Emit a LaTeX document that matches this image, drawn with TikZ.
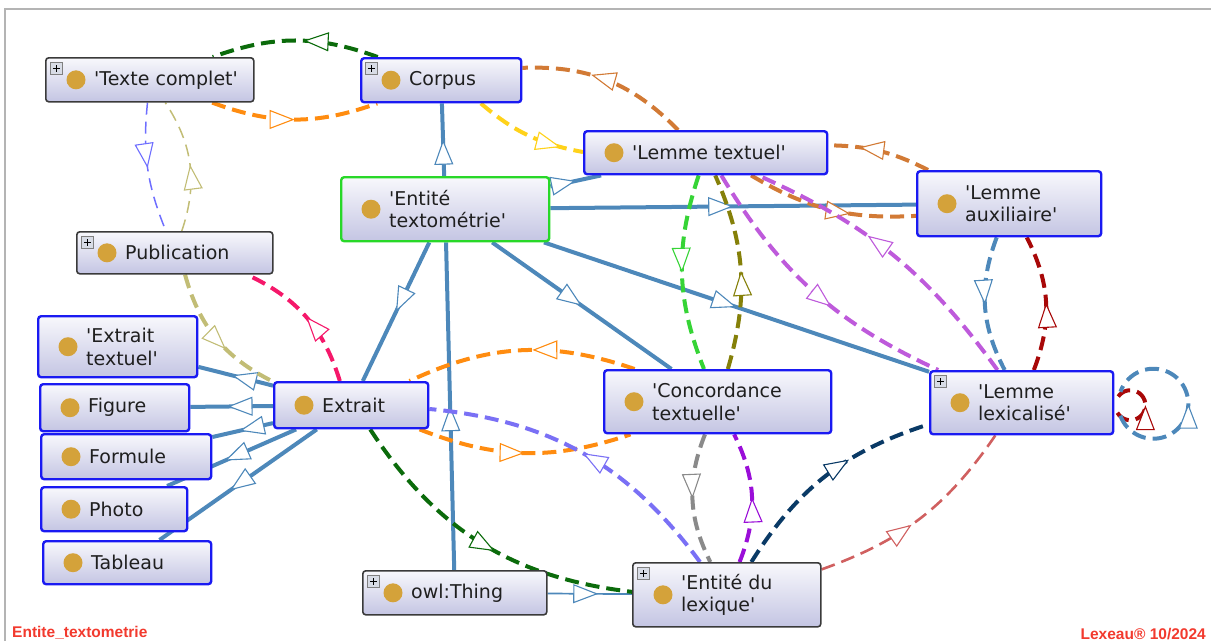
\documentclass[tikz,border=0pt]{standalone}
\usepackage{fontspec}
\setmainfont{DejaVu Sans}
\newfontfamily\footfont{Liberation Sans}
\usetikzlibrary{arrows.meta, decorations.markings}

\definecolor{clsblue}{HTML}{1A1AF2}
\definecolor{clsgrey}{HTML}{3A3A3A}
\definecolor{clsgreen}{HTML}{28D828}
\definecolor{boxtop}{HTML}{F8F8FC}
\definecolor{boxbot}{HTML}{C4C5E3}
\definecolor{dotgold}{HTML}{D4A23A}
\definecolor{plusfill}{HTML}{D8DCE6}
\definecolor{steel}{HTML}{4D88BA}
\definecolor{dkgreen}{HTML}{0B6B0B}
\definecolor{orng}{HTML}{FF8C10}
\definecolor{peru}{HTML}{D27A35}
\definecolor{yel}{HTML}{FFD21A}
\definecolor{ltblue}{HTML}{6E6EFF}
\definecolor{khaki}{HTML}{C2BD76}
\definecolor{pink}{HTML}{F5186A}
\definecolor{slate}{HTML}{7A70F5}
\definecolor{lime}{HTML}{36D436}
\definecolor{olive}{HTML}{858009}
\definecolor{orchid}{HTML}{BE5ADB}
\definecolor{gry}{HTML}{8A8A8A}
\definecolor{dviolet}{HTML}{9A0ED8}
\definecolor{navy}{HTML}{0A3A66}
\definecolor{coral}{HTML}{D06060}
\definecolor{dred}{HTML}{A80808}
\definecolor{framegray}{HTML}{B4B4B4}
\definecolor{footred}{HTML}{F23A2E}

\pgfdeclarelayer{background}
\pgfsetlayers{background,main}

\newcommand{\sq}{\textquotesingle}
% #1 style, #2 name, #3 x, #4 y, #5 width, #6 height, #7 text
\newcommand{\owlclass}[7]{%
  \node[#1, minimum width=#5pt, minimum height=#6pt] (#2) at (#3,#4) {};
  \fill[dotgold] ([xshift=31pt]#2.west) circle (9.5pt);
  \node[lbl] (#2-txt) at ([xshift=49pt]#2.west) {#7};
}
\newcommand{\plusicon}[1]{%
  \node[plusico] (#1-plus) at ([xshift=5pt,yshift=-5pt]#1.north west) {};
}

\tikzset{
  cls/.style={draw=clsblue, line width=2.4pt, rounded corners=3pt,
    top color=boxtop, bottom color=boxbot, anchor=north west, inner sep=0pt},
  clsgrey/.style={cls, draw=clsgrey, line width=1.6pt},
  clsgreen/.style={cls, draw=clsgreen},
  lbl/.style={anchor=west, align=left, inner sep=0pt, text=black!88,
    font=\fontsize{19}{22.5}\selectfont},
  plusico/.style={anchor=north west, minimum size=12pt, inner sep=0pt,
    draw=gray, fill=plusfill, line width=0.6pt,
    path picture={\draw[black, line width=1pt]
      ([xshift=-3.5pt]path picture bounding box.center) -- ([xshift=3.5pt]path picture bounding box.center)
      ([yshift=-3.5pt]path picture bounding box.center) -- ([yshift=3.5pt]path picture bounding box.center);}},
  foot/.style={inner sep=0pt, text=footred, font=\footfont\bfseries\fontsize{15.5}{18}\selectfont},
  arr/.style={postaction={decorate, decoration={markings,
    mark=at position #1 with {\arrow{Triangle[fill=white, length=25pt, width=19pt, line width=1.1pt]}}}}},
  arr/.default=0.5,
  isa/.style={steel, line width=4pt},
  rel/.style={dash pattern=on 14pt off 7pt, line width=4pt},
  thinrel/.style={dash pattern=on 12pt off 7pt, line width=1.5pt},
}

\begin{document}
\begin{tikzpicture}[x=1pt, y=-1pt]
\useasboundingbox (0,0) rectangle (1211,641);
\draw[framegray, line width=1.5pt] (5,641) -- (5,9) -- (1211,9);

% classes
\owlclass{clsgrey}{texte}{45}{57}{208}{44}{\sq Texte complet\sq}
\owlclass{cls}{corpus}{360}{57}{160}{44}{Corpus}
\owlclass{cls}{lemtxt}{583}{130}{243}{43}{\sq Lemme textuel\sq}
\owlclass{clsgreen}{enttxt}{340}{176}{208}{64}{\sq Entité\\textométrie\sq}
\owlclass{cls}{lemaux}{916}{170}{184}{65}{\sq Lemme\\auxiliaire\sq}
\owlclass{clsgrey}{pub}{76}{231}{196}{42}{Publication}
\owlclass{cls}{exttxt}{37}{315}{159}{61}{\sq Extrait\\textuel\sq}
\owlclass{cls}{figure}{39}{383}{149}{47}{Figure}
\owlclass{cls}{formule}{40}{433}{170}{45}{Formule}
\owlclass{cls}{photo}{40}{486}{146}{44}{Photo}
\owlclass{cls}{tableau}{42}{540}{168}{43}{Tableau}
\owlclass{cls}{extrait}{273}{381}{154}{46}{Extrait}
\owlclass{cls}{concord}{603}{369}{227}{63}{\sq Concordance\\textuelle\sq}
\owlclass{cls}{lemlex}{929}{370}{183}{63}{\sq Lemme\\lexicalisé\sq}
\owlclass{clsgrey}{owl}{362}{570}{184}{44}{owl:Thing}
\owlclass{clsgrey}{entlex}{632}{562}{188}{64}{\sq Entité du\\lexique\sq}
\foreach \cname in {texte, corpus, pub, lemlex, owl, entlex} {\plusicon{\cname}}

\node[foot, anchor=south west] (fname) at (12,640) {Entite\_textometrie};
\node[foot, anchor=south east] (fdate) at (1206,640) {Lexeau® 10/2024};

\begin{pgfonlayer}{background}
% subclass links
\draw[isa, arr] (enttxt) -- (corpus);
\draw[isa, arr] (enttxt) -- (lemtxt);
\draw[isa, arr] (enttxt) -- (lemaux);
\draw[isa, arr] (enttxt) -- (lemlex);
\draw[isa, arr] (enttxt) -- (concord);
\draw[isa, arr] (enttxt) -- (extrait);
\draw[isa, arr] (owl) -- (enttxt);
\draw[isa, line width=1.7pt, arr=0.6] (owl) -- (entlex);
\foreach \sub in {exttxt, figure, formule, photo, tableau}
  \draw[isa, arr=0.55] (extrait) -- (\sub);

% object properties
\draw[rel, dkgreen, arr=0.45] (corpus) to[bend right=20] (texte);
\draw[rel, orng, arr] (texte) to[bend right=20] (corpus);
\draw[thinrel, ltblue, arr] (texte) to[bend right=14] (pub);
\draw[thinrel, khaki, arr] (pub) to[bend right=26] (texte);
\draw[rel, peru, arr=0.6] (lemtxt) to[bend right=24] (corpus);
\draw[rel, peru, arr=0.62] (lemtxt) to[bend right=17] (lemaux);
\draw[rel, peru, arr=0.7] (lemaux) to[bend right=13] (lemtxt);
\draw[rel, yel, arr=0.8] (corpus) to[bend right=15] (lemtxt);
\draw[rel, khaki, arr=0.6] (pub) to[bend right=24] (extrait);
\draw[rel, pink, arr] (extrait) to[bend right=24] (pub);
\draw[rel, orng, arr=0.45] (concord) to[bend right=22] (extrait);
\draw[rel, orng, arr] (extrait) to[bend right=20] (concord);
\draw[rel, slate, arr] (entlex) to[bend right=24] (extrait);
\draw[rel, dkgreen, arr=0.55] (extrait) to[bend right=25] (entlex);
\draw[rel, gry, arr] (concord) to[bend right=24] (entlex);
\draw[rel, dviolet, arr] (entlex) to[bend right=24] (concord);
\draw[rel, lime, arr] (lemtxt) to[bend right=20] (concord);
\draw[rel, olive, arr] (concord) to[bend right=20] (lemtxt);
\draw[rel, orchid, arr=0.58] (lemtxt) to[bend right=17] (lemlex);
\draw[rel, orchid, arr=0.6] (lemlex) to[bend right=15] (lemtxt);
\draw[rel, steel, arr] (lemaux) to[bend right=24] (lemlex);
\draw[rel, dred, arr] (lemlex) to[bend right=24] (lemaux);
\draw[rel, navy, arr=0.62] (entlex) to[bend left=20] (lemlex);
\draw[rel, coral, line width=2.6pt, arr=0.45] (entlex) to[bend right=18] (lemlex);
% self loops
\draw[rel, dred, arr] ([xshift=3pt, yshift=-10pt]lemlex.east) arc[start angle=150, end angle=-150, radius=15];
\draw[rel, steel, arr] ([xshift=6pt, yshift=-13pt]lemlex.east) arc[start angle=160, end angle=-160, radius=35];
\end{pgfonlayer}
\end{tikzpicture}
\end{document}
